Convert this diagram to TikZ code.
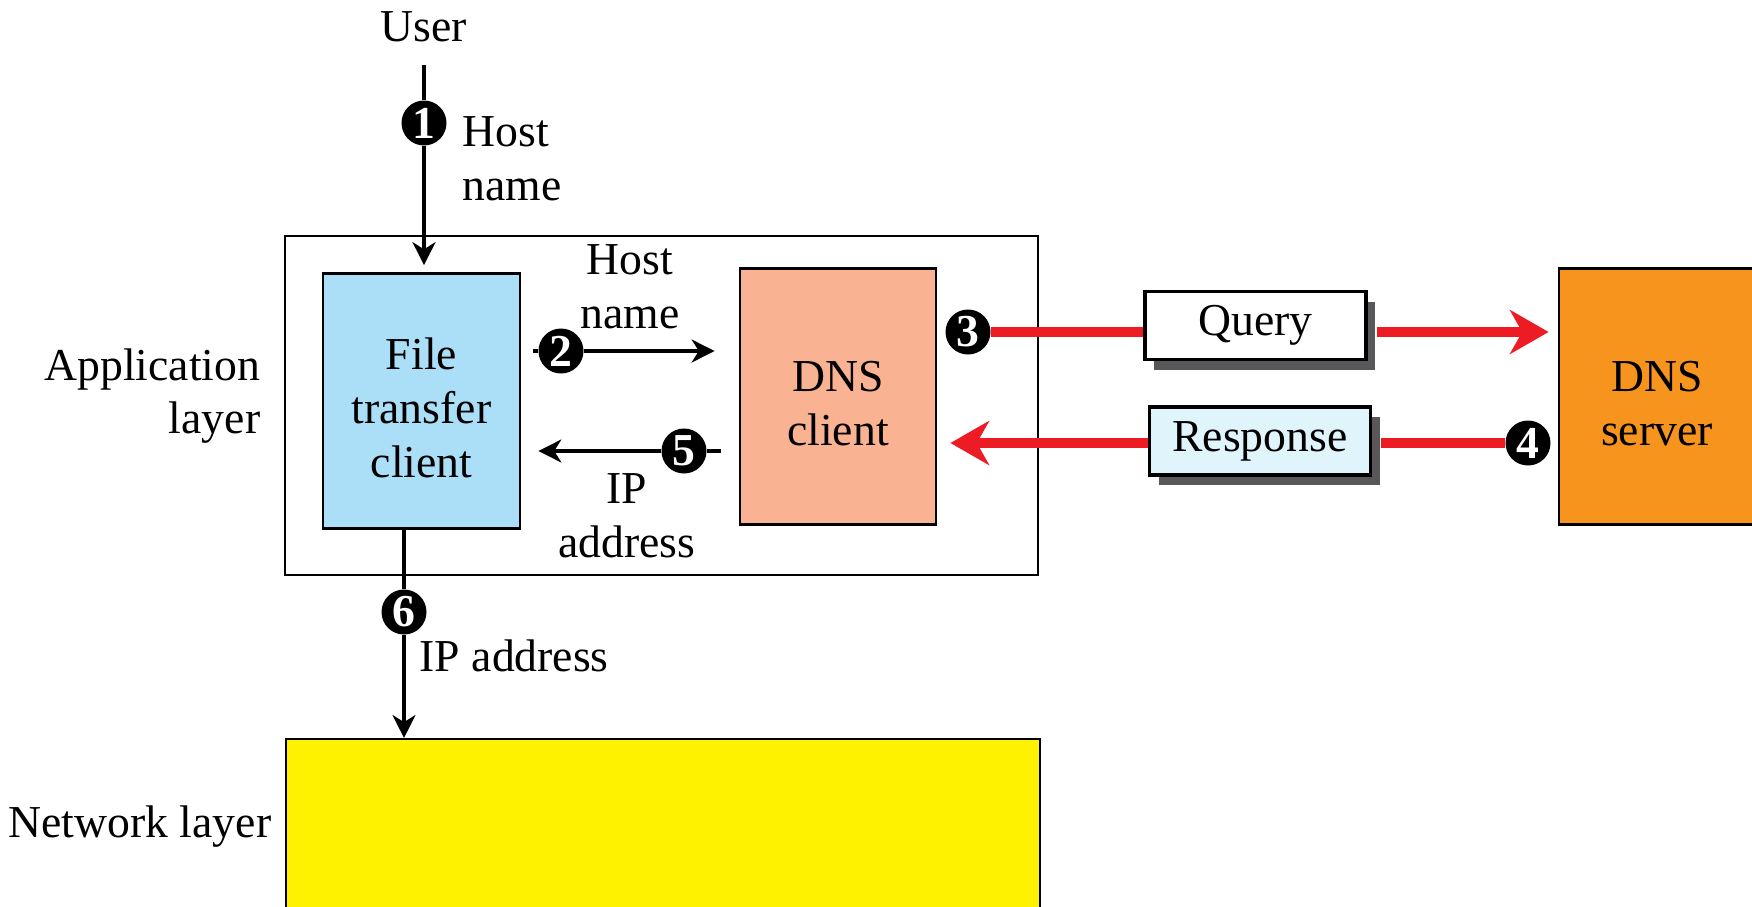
\documentclass[tikz,border=0pt]{standalone}
\usepackage{fontspec}
\setmainfont{Liberation Serif}
\usetikzlibrary{arrows.meta,shadows}
\definecolor{ftcblue}{RGB}{171,223,248}
\definecolor{clientsalmon}{RGB}{249,178,146}
\definecolor{serverorange}{RGB}{247,148,29}
\definecolor{respblue}{RGB}{224,244,252}
\definecolor{shadowgray}{RGB}{88,88,90}
\definecolor{dnsred}{RGB}{237,28,36}
\begin{document}
\begin{tikzpicture}[
  font=\fontsize{13}{15.3}\selectfont,
  box/.style={draw, line width=0.8pt, minimum width=1.97cm, minimum height=2.56cm},
  boxtext/.style={align=center, inner sep=0pt},
  msg/.style={draw, line width=0.9pt, minimum width=2.21cm, minimum height=0.68cm,
    drop shadow={shadow xshift=0.09cm, shadow yshift=-0.10cm, fill=shadowgray, opacity=1}},
  num/.style={circle, fill=black, text=white, font=\fontsize{13}{15}\selectfont\bfseries, inner sep=0pt, minimum size=0.45cm},
  bar/.style={line width=1.1pt},
  arr/.style={line width=1.1pt, -{Stealth[length=6.5pt,width=6.5pt,inset=2pt]}},
  redbar/.style={draw=dnsred, line width=2.8pt},
  redarr/.style={draw=dnsred, line width=2.8pt, -{Stealth[length=11pt,width=12.5pt,inset=3.5pt]}}
]
\useasboundingbox (0,0) rectangle (17.52,-9.06);
\clip (0,0) rectangle (17.52,-9.06);

\node[draw, line width=0.6pt, minimum width=7.53cm, minimum height=3.39cm] (app) at (6.615,-4.055) {};
\node[box, fill=ftcblue, minimum height=2.55cm] (ftc) at (4.215,-4.01) {};
\node[box, fill=clientsalmon, minimum width=1.96cm] (dnsc) at (8.38,-3.965) {};
\node[box, fill=serverorange, minimum width=1.96cm] (server) at (16.57,-3.965) {};
\node[draw, fill=yellow, line width=0.6pt, minimum width=7.54cm, minimum height=1.91cm] (net) at (6.63,-8.345) {};
\node[msg, fill=white] (query) at (12.555,-3.255) {Query};
\node[msg, fill=respblue] (response) at (12.60,-4.41) {Response};

\node[boxtext] (ftctext) at ([yshift=-0.07cm]ftc.center) {File\\transfer\\client};
\node[boxtext] (dnsctext) at ([yshift=-0.07cm]dnsc.center) {DNS\\client};
\node[boxtext] (servertext) at ([yshift=-0.07cm]server.center) {DNS\\server};

\node (user) at (4.24,-0.27) {User};
\node[anchor=west, align=left, inner sep=0pt] (hostname1) at (4.62,-1.59) {Host\\name};
\node[align=center, inner sep=0pt] (hostname2) at (6.30,-2.87) {Host\\name};
\node[align=center, inner sep=0pt] (ipaddr1) at (6.27,-5.16) {IP\\address};
\node[anchor=west, inner sep=0pt] (ipaddr2) at (4.19,-6.56) {IP address};
\node[anchor=east, align=right, inner sep=0pt] (applabel) at (2.61,-3.96) {Application\\layer};
\node[anchor=east, inner sep=0pt] (netlabel) at (2.72,-8.27) {Network layer};

\node[num] (n1) at (4.24,-1.23) {1};
\node[num] (n2) at (5.61,-3.51) {2};
\node[num] (n3) at (9.68,-3.32) {3};
\node[num] (n4) at (15.28,-4.43) {4};
\node[num] (n5) at (6.84,-4.51) {5};
\node[num] (n6) at (4.04,-6.12) {6};

\path[draw,bar,shorten <=0.1cm] (user) -- (n1);
\path[draw,arr,shorten >=0.07cm] (n1) -- (ftc.north -| n1);
\path[draw,bar,shorten <=0.12cm] (ftc.east |- n2) -- (n2);
\path[draw,arr,shorten >=0.24cm] (n2) -- (dnsc.west |- n2);
\path[draw,bar,shorten <=0.18cm] (dnsc.west |- n5) -- (n5);
\path[draw,arr,shorten >=0.17cm] (n5) -- (ftc.east |- n5);
\path[draw,bar] (ftc.south -| n6) -- (n6);
\path[draw,arr] (n6) -- (net.north -| n6);
\path[redbar] (n3) -- (query.west |- n3);
\path[redarr,shorten <=0.09cm,shorten >=0.09cm] (query.east |- n3) -- (server.west |- n3);
\path[redbar,shorten >=0.09cm] (n4) -- (response.east |- n4);
\path[redarr,shorten >=0.13cm] (response.west |- n4) -- (dnsc.east |- n4);
\end{tikzpicture}
\end{document}
